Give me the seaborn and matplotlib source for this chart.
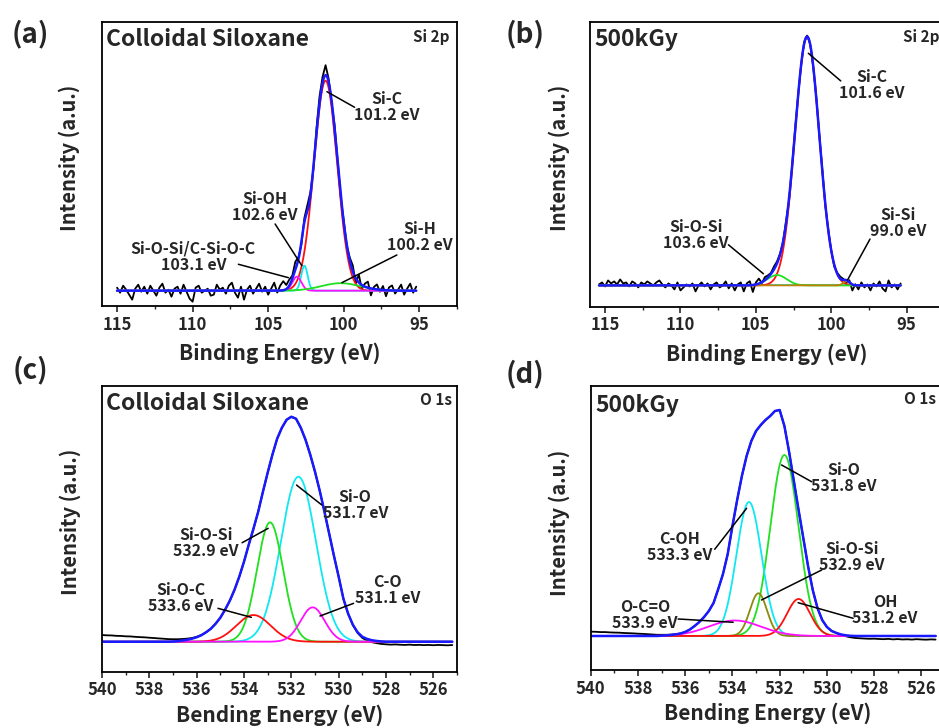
import numpy as np
import matplotlib
matplotlib.use("Agg")
import matplotlib.pyplot as plt
import seaborn as sns
from matplotlib.ticker import MultipleLocator

# ---- values ----
# peak fit components: centre (eV), height (a.u.), FWHM (eV)

# (a) Si 2p, colloidal siloxane
a_names = ["Si-C", "Si-OH", "Si-O-Si/C-Si-O-C", "Si-H"]
a_center = [101.2, 102.6, 103.1, 100.2]
a_height = [210, 25, 14, 7.5]
a_fwhm = [1.8, 0.5, 0.7, 3.0]
a_colors = ["#ff1010", "#10e8f0", "#ff10ff", "#20e020"]
# raw spectrum = fit + scatter, 115.0 -> 95.2 eV in 0.2 eV steps
a_scatter = [
    3, -2, 5, 1, -4, -9, 2, 6, -1, 4,
    -3, 5, 0, -5, 3, 7, -2, 1, -6, 2,
    4, -3, 6, -1, -8, -11, 3, 5, -2, 0,
    2, -5, -4, 6, 1, 3, -3, 5, 8, -2,
    -7, 4, -9, 1, 5, -3, 2, 7, -1, 4,
    -4, 2, 8, -2, 5, 9, 4, 6, 3, 8,
    2, -3, 4, 6, 3, -2, 5, 7, 6, 10,
    3, -2, 4, 1, -3, 2, -1, 3, 6, -5,
    8, -4, 3, 6, -7, 2, 5, -2, 4, -6,
    3, 5, -3, 1, 6, -4, 2, 7, -2, 4]

# (b) Si 2p, 500 kGy
b_names = ["Si-C", "Si-O-Si", "Si-Si"]
b_center = [101.6, 103.6, 99.0]
b_height = [249, 10.4, 4]
b_fwhm = [1.9, 1.5, 0.5]
b_colors = ["#ff1010", "#20e020", "#c08000"]
# 115.4 -> 95.4 eV in 0.2 eV steps
b_scatter = [
    1, 3, -1, 5, 2, 4, 1, 6, 2, 3,
    -1, 4, 2, -2, 3, 1, 4, 2, 0, 3,
    5, 1, -2, 2, 0, -4, 3, -5, -2, 1,
    -1, 2, -6, 0, 3, -1, 2, -4, 1, 3,
    -2, 0, 4, -3, 2, -5, 1, 3, -6, 2,
    4, -7, 2, 5, -1, 3, 2, 1, 3, 2,
    1, 0, 2, -2, 1, 2, 0, -1, 2, 1,
    0, -1, 1, 0, 2, -2, 1, 0, -2, 1,
    2, 1, -3, 2, -6, 1, -4, 3, -2, 1,
    -5, 2, -1, 4, -3, -6, 5, -2, 1, -4,
    2]

# (c) O 1s, colloidal siloxane
c_names = ["Si-O", "Si-O-Si", "Si-O-C", "C-O"]
c_center = [531.7, 532.9, 533.6, 531.1]
c_height = [165, 119.4, 26.7, 34.4]
c_fwhm = [1.75, 1.3, 1.7, 1.2]
c_colors = ["#10e8f0", "#20e020", "#ff1010", "#ff10ff"]
# envelope (blue) and raw-minus-envelope drift, 540.0 -> 525.2 eV in 0.2 eV steps
c_envelope = [
    0, 0, 0, 0, 0, 0, 0, 0, 0, 0,
    0, 0, 0, 0, 0, 0.2, 0.6, 1.2, 2, 3,
    4.5, 6.5, 9.5, 13, 18, 24, 32, 41, 52, 65,
    80, 97, 113, 130, 150, 169, 187, 203, 214, 222,
    225, 223, 214, 202, 187, 170, 151, 130, 108, 86,
    65, 43, 28, 17, 9.5, 5, 2.8, 1.5, 0.8, 0.3,
    0, 0, 0, 0, 0, 0, 0, 0, 0, 0,
    0, 0, 0, 0, 0]
c_drift = [
    6.7, 6.4, 6.3, 5.9, 5.8, 5.4, 5.3, 4.9, 4.6, 4.4,
    4.0, 3.7, 3.3, 3.0, 2.6, 2.3, 1.9, 1.5, 1.1, 0.7,
    0.4, 0.2, 0, 0, 0, 0, 0, 0, 0, 0,
    0, 0, 0, 0, 0, 0, 0, 0, 0, 0,
    0, 0, 0, 0, 0, 0, 0, 0, 0, 0,
    0, 0, 0, -0.3, -0.8, -1.2, -1.6, -2.0, -2.2, -2.5,
    -2.6, -2.9, -2.7, -3.0, -3.2, -2.9, -3.3, -3.1, -3.4, -3.2,
    -3.5, -3.2, -3.4, -3.6, -3.3]

# (d) O 1s, 500 kGy
d_names = ["Si-O", "C-OH", "Si-O-Si", "OH", "O-C=O"]
d_center = [531.8, 533.3, 532.9, 531.2, 533.9]
d_height = [181, 134, 42.7, 37, 15.5]
d_fwhm = [1.4, 1.25, 0.85, 1.15, 2.6]
d_colors = ["#20e020", "#10e8f0", "#8a8a10", "#ff1010", "#ff10ff"]
# 540.0 -> 525.4 eV in 0.2 eV steps
d_envelope = [
    0, 0, 0, 0, 0, 0, 0, 0, 0, 0,
    0, 0, 0, 0, 0, 0.3, 0.6, 1, 1.6, 2.5,
    4, 6.5, 10, 14, 19, 25, 33, 47, 62, 82,
    110, 136, 160, 180, 195, 205, 211, 216, 220, 225,
    226, 210, 184, 155, 126, 98, 70, 46, 28, 16,
    9, 5, 3, 1.5, 0.7, 0.2, 0, 0, 0, 0,
    0, 0, 0, 0, 0, 0, 0, 0, 0, 0,
    0, 0, 0, 0]
d_drift = [
    4.3, 4.2, 3.9, 3.9, 3.6, 3.4, 3.3, 3.0, 2.8, 2.6,
    2.3, 2.1, 1.8, 1.5, 1.2, 0.9, 0.6, 0.4, 0.2, 0,
    0, 0, 0, 0, 0, 0, 0, 0, 0, 0,
    0, 0, 0, 0, 0, 0, 0, 0, 0, 0,
    0, 0, 0, 0, 0, 0, 0, 0, 0, 0,
    0, 0, 0, -0.4, -1.0, -1.5, -2.0, -2.3, -2.6, -2.8,
    -2.7, -3.0, -3.2, -2.9, -3.4, -3.1, -3.5, -3.3, -3.6, -3.2,
    -3.5, -3.7, -3.4, -3.6]

BLUE = "#1a1aff"


def peak(e, center, height, fwhm):
    return height * np.exp(-4 * np.log(2) * (e - center) ** 2 / fwhm ** 2)


def fit_sum(e, centers, heights, fwhms):
    return np.sum([peak(e, c, h, w) for c, h, w in zip(centers, heights, fwhms)], axis=0)


def line(ax, x, y, color, lw):
    sns.lineplot(x=x, y=y, ax=ax, color=color, linewidth=lw,
                 estimator=None, errorbar=None, sort=False)


def draw_panel(ax, e_start, e_stop, offsets, centers, heights, fwhms, colors,
               envelope=None, flat_color=None):
    e_raw = np.linspace(e_start, e_stop, len(offsets))
    e_fit = np.linspace(e_start, e_stop, 900)
    if envelope is None:
        env_x = e_fit
        env_y = fit_sum(e_fit, centers, heights, fwhms)
        raw = fit_sum(e_raw, centers, heights, fwhms) + np.array(offsets, dtype=float)
    else:
        env_x = e_raw
        env_y = np.array(envelope, dtype=float)
        raw = env_y + np.array(offsets, dtype=float)
    line(ax, e_raw, raw, "black", 1.3)
    if flat_color:
        line(ax, e_fit, np.zeros_like(e_fit), flat_color, 1.3)
    for c, h, w, col in zip(centers, heights, fwhms, colors):
        line(ax, e_fit, peak(e_fit, c, h, w), col, 1.3)
    line(ax, env_x, env_y, BLUE, 1.8)


def annotate(ax, names, centers, positions):
    for name, c, (tx, ty, sx, sy, px, py) in zip(names, centers, positions):
        ax.text(tx, ty, f"{name}\n{c:.1f} eV", ha="center", va="center",
                fontsize=11.5, fontweight="bold", linespacing=1.0)
        ax.annotate("", xy=(px, py), xytext=(sx, sy),
                    arrowprops=dict(arrowstyle="-", color="black", lw=1.1,
                                    shrinkA=0, shrinkB=0))


def style_axes(ax, xlim, ylim, major, minor, xlabel, xlabel_y, ylabel_x, ylabel_y):
    ax.set_xlim(*xlim)
    ax.set_ylim(*ylim)
    ax.set_yticks([])
    ax.xaxis.set_major_locator(MultipleLocator(major))
    ax.xaxis.set_minor_locator(MultipleLocator(minor))
    ax.tick_params(axis="x", which="major", length=4, width=1.2, labelsize=12, pad=3)
    ax.tick_params(axis="x", which="minor", length=2.5, width=1.0)
    for s in ax.spines.values():
        s.set_visible(True)
        s.set_linewidth(1.3)
        s.set_color("black")
    ax.set_xlabel(xlabel, fontsize=15, fontweight="bold")
    ax.set_ylabel("Intensity (a.u.)", fontsize=14.5, fontweight="bold")
    ax.xaxis.set_label_coords(0.5, xlabel_y)
    ax.yaxis.set_label_coords(ylabel_x, ylabel_y)


sns.set_theme(style="ticks")
plt.rcParams["font.family"] = ["Noto Sans CJK KR", "DejaVu Sans"]
plt.rcParams["font.weight"] = "bold"
plt.rcParams["axes.labelweight"] = "bold"

fig = plt.figure(figsize=(9.39, 7.28), dpi=100)
ax_a = fig.add_axes([0.1086, 0.5797, 0.3781, 0.3901])
ax_b = fig.add_axes([0.6283, 0.5787, 0.3774, 0.3907])
ax_c = fig.add_axes([0.1086, 0.0773, 0.3781, 0.3924])
ax_d = fig.add_axes([0.6291, 0.0797, 0.3773, 0.3905])

# (a)
draw_panel(ax_a, 115.0, 95.2, a_scatter, a_center, a_height, a_fwhm, a_colors)
style_axes(ax_a, (116, 92.5), (-15.3, 268.7), 5, 2.5, "Binding Energy (eV)",
           -0.128, -0.062, 0.523)
annotate(ax_a, a_names, a_center, [
    (97.15, 184, 99.28, 183.4, 101.11, 199),
    (105.2, 84, 104.54, 66.7, 102.77, 25),
    (109.95, 34, 106.97, 26.4, 103.66, 13),
    (94.98, 54, 96.48, 35.7, 100.12, 8)])
ax_a.text(0.011, 0.939, "Colloidal Siloxane", transform=ax_a.transAxes,
          ha="left", va="center", fontsize=16.5, fontweight="bold")
ax_a.text(0.980, 0.946, "Si 2p", transform=ax_a.transAxes,
          ha="right", va="center", fontsize=11, fontweight="bold")

# (b)
draw_panel(ax_b, 115.4, 95.4, b_scatter, b_center, b_height, b_fwhm, b_colors,
           flat_color="#10e8f0")
style_axes(ax_b, (116, 92.5), (-21.3, 263.4), 5, 2.5, "Binding Energy (eV)",
           -0.128, -0.056, 0.523)
annotate(ax_b, b_names, b_center, [
    (97.31, 200.7, 99.37, 204.7, 101.52, 232.4),
    (108.99, 50.7, 106.82, 40.7, 104.50, 11.7),
    (95.55, 62.4, 97.43, 46.4, 98.91, 5.7)])
ax_b.text(0.014, 0.938, "500kGy", transform=ax_b.transAxes,
          ha="left", va="center", fontsize=16.5, fontweight="bold")
ax_b.text(0.884, 0.948, "Si 2p", transform=ax_b.transAxes,
          ha="left", va="center", fontsize=11, fontweight="bold")

# (c)
draw_panel(ax_c, 540.0, 525.2, c_drift, c_center, c_height, c_fwhm, c_colors,
           envelope=c_envelope)
style_axes(ax_c, (540, 525), (-30, 255.7), 2, 1, "Bending Energy (eV)",
           -0.113, -0.059, 0.525)
annotate(ax_c, c_names, c_center, [
    (529.30, 136.7, 530.71, 136.7, 531.78, 156.7),
    (535.60, 98.4, 534.08, 99, 532.98, 113.4),
    (536.66, 44, 535.10, 33.4, 533.69, 24.4),
    (527.95, 51.7, 529.37, 38.4, 530.79, 25.7)])
ax_c.text(0.011, 0.939, "Colloidal Siloxane", transform=ax_c.transAxes,
          ha="left", va="center", fontsize=16.5, fontweight="bold")
ax_c.text(0.985, 0.951, "O 1s", transform=ax_c.transAxes,
          ha="right", va="center", fontsize=11, fontweight="bold")

# (d)
draw_panel(ax_d, 540.0, 525.4, d_drift, d_center, d_height, d_fwhm, d_colors,
           envelope=d_envelope)
style_axes(ax_d, (540, 525), (-34, 250.3), 2, 1, "Bending Energy (eV)",
           -0.113, -0.058, 0.519)
annotate(ax_d, d_names, d_center, [
    (529.28, 157.7, 530.65, 154.3, 531.92, 171),
    (536.23, 89.3, 534.75, 86.7, 533.40, 127.7),
    (528.95, 79.3, 530.22, 66, 532.77, 36),
    (527.54, 26, 528.89, 17.7, 531.22, 33.3),
    (537.71, 21, 536.30, 17, 533.97, 13.7)])
ax_d.text(0.012, 0.932, "500kGy", transform=ax_d.transAxes,
          ha="left", va="center", fontsize=16.5, fontweight="bold")
ax_d.text(0.884, 0.953, "O 1s", transform=ax_d.transAxes,
          ha="left", va="center", fontsize=11, fontweight="bold")

for lab, x, y in [("(a)", 0.032, 0.954), ("(b)", 0.559, 0.954),
                  ("(c)", 0.032, 0.492), ("(d)", 0.559, 0.487)]:
    fig.text(x, y, lab, ha="center", va="center", fontsize=20, fontweight="bold")

fig.savefig("out.png", dpi=100)
plt.close(fig)
